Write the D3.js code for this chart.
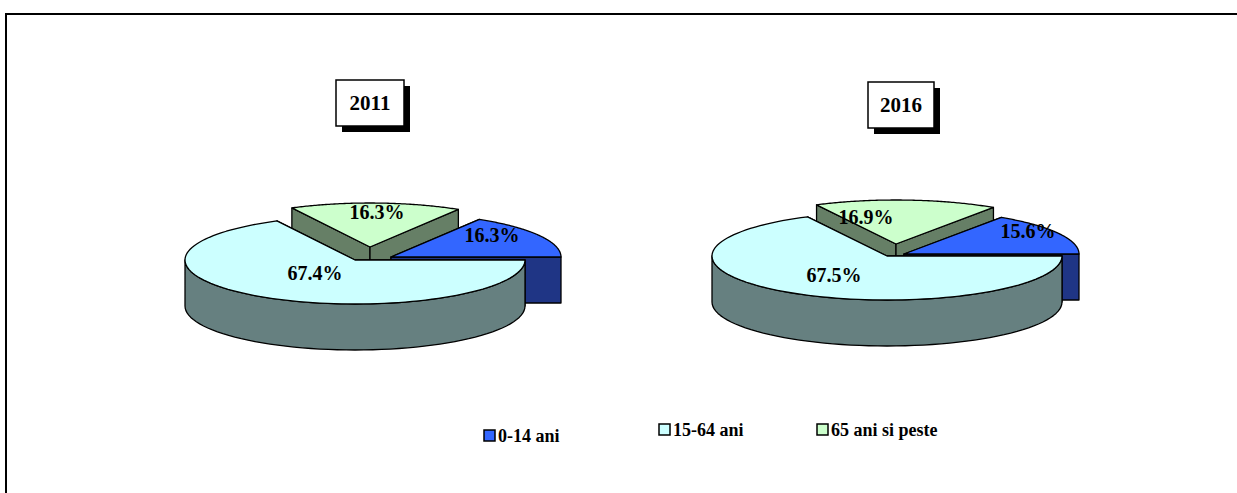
<!DOCTYPE html>
<html><head><meta charset="utf-8">
<script src="https://cdn.jsdelivr.net/npm/d3@7"></script>
<style>body{margin:0;background:#fff}svg text{font-family:"Liberation Serif","Times New Roman",serif;font-weight:700}</style>
</head><body>
<div id="chart-area"></div>
<script>
// data
var categories = ["0-14 ani", "15-64 ani", "65 ani si peste"];
var years = ["2011", "2016"];
var values2011 = [16.3, 67.4, 16.3];
var values2016 = [15.6, 67.5, 16.9];
var topColors = ["#3366ff", "#ccffff", "#ccffcc"];
var sideColors = ["#1f3585", "#668080", "#667f66"];

var svg = d3.select("#chart-area").append("svg")
    .attr("width", 1237).attr("height", 493);

// frame
svg.append("path").attr("d", "M6,493V14H1237").attr("fill", "none")
    .attr("stroke", "#000").attr("stroke-width", 2);

var pies = [
    { year: years[0], vals: values2011, cx: 355, cy: 260, rx: 170, ry: 44, depth: 46,
      offs: [[36, -3], [0, 0], [15, -13]], box: [336, 80, 68, 46], lab: [[492, 242], [315, 280], [377, 219]] },
    { year: years[1], vals: values2016, cx: 887, cy: 256, rx: 175, ry: 44, depth: 46,
      offs: [[17, -2], [0, 0], [9, -12]], box: [868, 82, 66, 46], lab: [[1028, 238], [834, 282], [866, 224]] }
];

function drawPie(p) {
    var g = svg.append("g");
    var start = Math.PI / 2 - 2 * Math.PI * p.vals[0] / 100;
    var arcs = d3.pie().sort(null).startAngle(start).endAngle(start + 2 * Math.PI)(p.vals);
    function pt(i, a, dz) {
        return [p.cx + p.offs[i][0] + p.rx * Math.cos(a), p.cy + p.offs[i][1] + p.ry * Math.sin(a) + (dz || 0)];
    }
    function apex(i, dz) { return [p.cx + p.offs[i][0], p.cy + p.offs[i][1] + (dz || 0)]; }
    var walls = [], tops = [];
    arcs.forEach(function(d, i) {
        var a0 = d.startAngle - Math.PI / 2, a1 = d.endAngle - Math.PI / 2;
        // radial walls
        [a0, a1].forEach(function(a) {
            var e = pt(i, a), c = apex(i);
            var poly = [c, e, pt(i, a, p.depth), apex(i, p.depth)];
            walls.push({ poly: poly, color: sideColors[i], z: (c[1] + e[1]) / 2 });
        });
        // outer wall: visible part in [0, PI] (mod 2PI)
        for (var k = -1; k <= 1; k++) {
            var lo = Math.max(a0, k * 2 * Math.PI), hi = Math.min(a1, k * 2 * Math.PI + Math.PI);
            if (hi > lo) {
                var n = 60, poly = [];
                for (var s = 0; s <= n; s++) poly.push(pt(i, lo + (hi - lo) * s / n));
                for (var s = n; s >= 0; s--) poly.push(pt(i, lo + (hi - lo) * s / n, p.depth));
                walls.push({ poly: poly, color: sideColors[i], z: p.cy + p.ry + 100 });
            }
        }
        var tp = [apex(i)], n2 = 100;
        for (var s = 0; s <= n2; s++) tp.push(pt(i, a0 + (a1 - a0) * s / n2));
        tops.push({ poly: tp, color: topColors[i], y: apex(i)[1] });
    });
    walls.sort(function(a, b) { return a.z - b.z; });
    tops.sort(function(a, b) { return a.y - b.y; });
    var line = d3.line().curve(d3.curveLinearClosed);
    g.selectAll(".wall").data(walls).enter().append("path").attr("class", "wall")
        .attr("d", function(w) { return line(w.poly); })
        .attr("fill", function(w) { return w.color; })
        .attr("stroke", "#000").attr("stroke-width", 1.3).attr("stroke-linejoin", "round");
    g.selectAll(".top").data(tops).enter().append("path").attr("class", "top")
        .attr("d", function(t) { return line(t.poly); })
        .attr("fill", function(t) { return t.color; })
        .attr("stroke", "#000").attr("stroke-width", 1.3).attr("stroke-linejoin", "round");
    // labels
    g.selectAll(".lab").data(p.vals).enter().append("text")
        .attr("x", function(d, i) { return p.lab[i][0]; })
        .attr("y", function(d, i) { return p.lab[i][1]; })
        .attr("text-anchor", "middle").attr("font-size", "20px")
        .text(function(d) { return d.toFixed(1) + "%"; });
    // title box with shadow
    var b = p.box;
    g.append("rect").attr("x", b[0] + 6).attr("y", b[1] + 6).attr("width", b[2]).attr("height", b[3]).attr("fill", "#000");
    g.append("rect").attr("x", b[0]).attr("y", b[1]).attr("width", b[2]).attr("height", b[3])
        .attr("fill", "#fff").attr("stroke", "#000").attr("stroke-width", 1.5);
    g.append("text").attr("x", b[0] + b[2] / 2).attr("y", b[1] + b[3] / 2 + 7)
        .attr("text-anchor", "middle").attr("font-size", "21px").text(p.year);
}
pies.forEach(drawPie);

// legend
var legX = [484, 659, 817], legY = [436, 430, 430];
var leg = svg.selectAll(".leg").data(categories).enter().append("g")
    .attr("transform", function(d, i) { return "translate(" + legX[i] + "," + legY[i] + ")"; });
leg.append("rect").attr("x", 0).attr("y", -6).attr("width", 11).attr("height", 11)
    .attr("fill", function(d, i) { return topColors[i]; }).attr("stroke", "#000").attr("stroke-width", 1.5);
leg.append("text").attr("x", 14).attr("y", 6).attr("font-size", "18px").text(function(d) { return d; });
</script>
</body></html>
